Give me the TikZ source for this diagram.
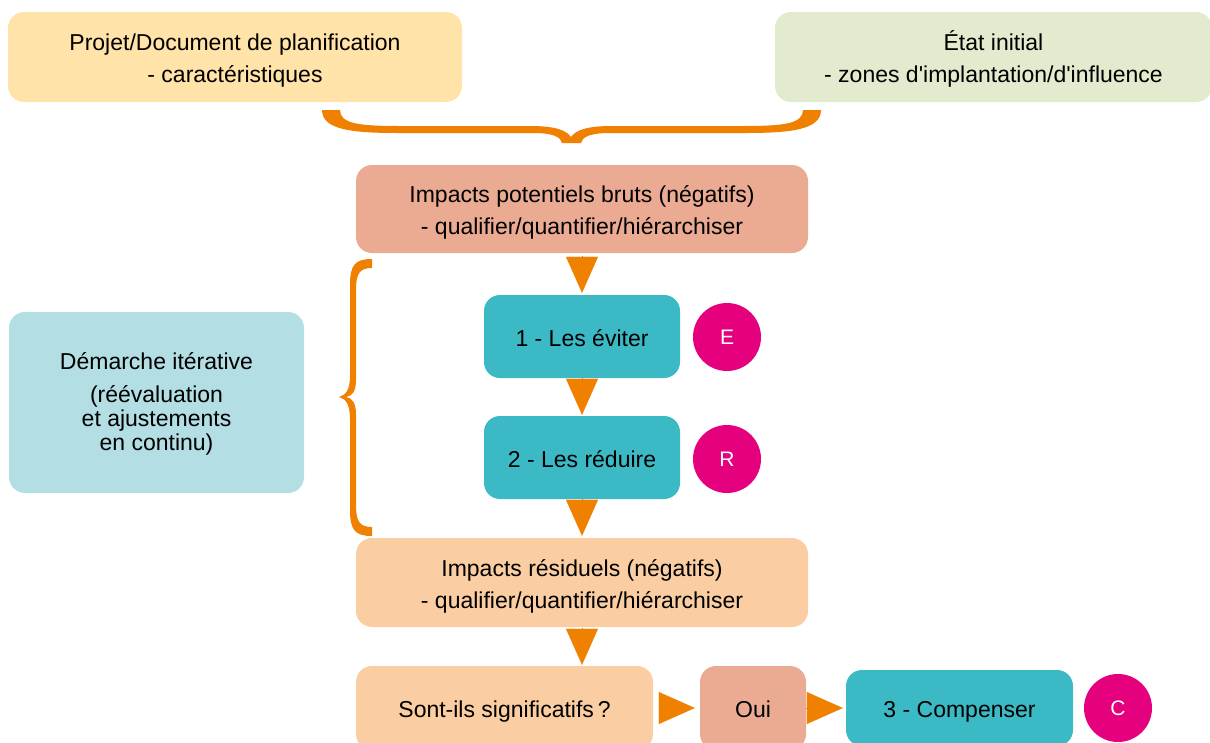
\documentclass[tikz,border=0pt]{standalone}
\usepackage{fontspec}
\setmainfont{Liberation Sans}[Ligatures=TeXOff]
\usetikzlibrary{arrows.meta}
\definecolor{jaune}{HTML}{FFE3A8}
\definecolor{vertpale}{HTML}{E2EBCD}
\definecolor{saumon}{HTML}{EBAB93}
\definecolor{peche}{HTML}{FBCDA2}
\definecolor{turquoise}{HTML}{3BBAC6}
\definecolor{bleupale}{HTML}{B2DEE4}
\definecolor{orangevif}{HTML}{F08000}
\definecolor{fuchsia}{HTML}{E5007E}
\newcommand{\haut}[1][24pt]{\rule{0pt}{#1}}
\begin{document}
\begin{tikzpicture}[x=1pt,y=-1pt,
        box/.style={rounded corners=16pt, align=center, inner sep=0pt, font=\fontsize{23}{32}\selectfont,
            execute at begin node={\rule{0pt}{24pt}}, execute at end node={\rule[-5pt]{0pt}{5pt}}},
        flow/.style={-{Triangle[length=36pt,width=32pt]}, draw=orangevif, fill=orangevif, line width=0.1pt},
        pastille/.style={circle, fill=fuchsia, text=white, minimum size=68pt, inner sep=0pt, font=\fontsize{21}{24}\selectfont}]
                \useasboundingbox (0,0) rectangle (1210,742);
                % entrees
                \node[box, fill=jaune, minimum width=454pt, minimum height=90pt] (projet) at (235,57) {\haut Projet/Document de planification\\- caractéristiques};
                \node[box, fill=vertpale, minimum width=437pt, minimum height=90pt] (etat) at (993.5,57) {\haut État initial\\- zones d'implantation/d'influence};
                \fill[orangevif] (322,110) -- (340,110) .. controls (340,124) and (360,126) .. (400,126) -- (530,126) .. controls (555,126) and (566,130) .. (571,137) .. controls (576,130) and (587,126) .. (612,126) -- (743,126) .. controls (783,126) and (803,124) .. (803,110) -- (821,110) .. controls (821,130) and (790,133) .. (745,133) -- (610,133) .. controls (590,133) and (582,137) .. (581,143) -- (562,143) .. controls (561,137) and (553,133) .. (533,133) -- (398,133) .. controls (353,133) and (322,130) .. (322,110) -- cycle;
                % sequence ERC
                \node[box, fill=saumon, minimum width=452pt, minimum height=88pt] (bruts) at (582,209) {\haut Impacts potentiels bruts (négatifs)\\- qualifier/quantifier/hiérarchiser};
                \node[box, fill=turquoise, minimum width=196pt, minimum height=83pt] (eviter) at (582,336.5) {1 - Les éviter};
                \node[box, fill=turquoise, minimum width=196pt, minimum height=83pt] (reduire) at (582,457.5) {2 - Les réduire};
                \node[box, fill=peche, minimum width=452pt, minimum height=89pt] (residuels) at (582,582.5) {\haut Impacts résiduels (négatifs)\\- qualifier/quantifier/hiérarchiser};
                \node[box, fill=peche, minimum width=297pt, minimum height=84pt] (signif) at (504.5,708) {Sont-ils significatifs\,?};
                \node[box, fill=saumon, minimum width=106pt, minimum height=84pt] (oui) at (753,708) {Oui};
                \node[box, fill=turquoise, minimum width=227pt, minimum height=76pt] (compenser) at (959.5,708) {3 - Compenser};
                \node[pastille] (E) at (727,337) {E};
                \node[pastille] (R) at (727,459) {R};
                \node[pastille] (C) at (1118,708) {C};
                \draw[flow, shorten <=3pt, shorten >=2pt] (bruts) -- (eviter);
                \draw[flow, shorten <=0pt, shorten >=1pt] (eviter) -- (reduire);
                \draw[flow, shorten <=0pt, shorten >=2pt] (reduire) -- (residuels);
                \draw[flow, shorten <=1pt, shorten >=1pt] (residuels.south) -- (residuels.south |- signif.north);
                \draw[flow, shorten <=6pt, shorten >=5pt] (signif) -- (oui);
                \draw[flow, shorten <=0pt, shorten >=3pt] (oui) -- (compenser);
                % demarche iterative
                \node[box, fill=bleupale, minimum width=295pt, minimum height=181pt, font=\fontsize{23}{24}\selectfont] (demarche) at (156.5,402.5) {\haut[19pt]Démarche itérative\\[9pt](réévaluation\\et ajustements\\en continu)};
                \fill[orangevif] (372,259) .. controls (355,259) and (350,265) .. (350,285) -- (350,375) .. controls (350,390) and (346,395) .. (339,397) .. controls (346,399) and (350,404) .. (350,420) -- (350,510) .. controls (350,530) and (355,536) .. (372,536) -- (372,527) .. controls (360,527) and (356,522) .. (356,505) -- (356,415) .. controls (356,402) and (352,398) .. (346,397) .. controls (352,396) and (356,392) .. (356,380) -- (356,290) .. controls (356,273) and (360,268) .. (372,268) -- cycle;
            \end{tikzpicture}
\end{document}
